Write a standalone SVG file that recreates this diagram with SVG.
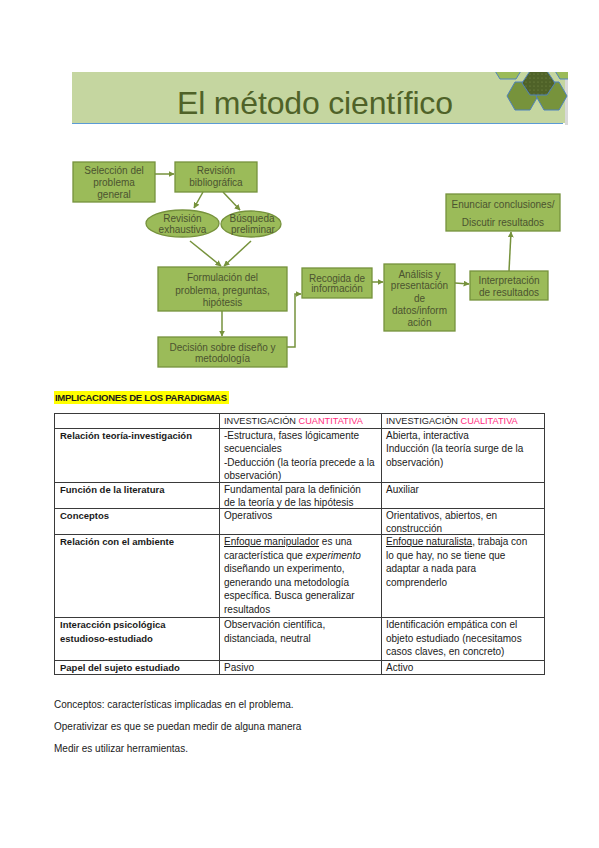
<svg xmlns="http://www.w3.org/2000/svg" width="599" height="848" viewBox="0 0 599 848">
<style>
.box{fill:#9bbb59;stroke:#76923c;stroke-width:1.3}
.ft{font-family:"Liberation Sans",Arial,sans-serif;font-size:10px;fill:#4b5330;text-anchor:middle}
.con{fill:none;stroke:#76923c;stroke-width:1.5}
.tt{font-family:"Liberation Sans",Arial,sans-serif;font-size:10px;fill:#1a1a1a}
.b{font-weight:bold;font-size:9.5px}
.hd{font-size:9.2px}
.pk{fill:#ff2d7e}
.grid{fill:none;stroke:#3a3a3a;stroke-width:1}
.hex{stroke:#4f81bd;stroke-width:1}
</style>
<defs>
<marker id="ah" viewBox="0 0 10 10" refX="9" refY="5" markerWidth="4" markerHeight="4" orient="auto">
<path d="M0,0 L10,5 L0,10 z" fill="#76923c"/>
</marker>
<pattern id="dots" width="4" height="4" patternUnits="userSpaceOnUse">
<rect width="4" height="4" fill="#4f6228"/>
<circle cx="2" cy="2" r="0.6" fill="#7a8f4a"/>
</pattern>
<clipPath id="bclip"><rect x="72" y="72" width="496" height="51"/></clipPath>
</defs>
<rect width="599" height="848" fill="#ffffff"/>

<g id="banner">
<rect x="565" y="74" width="3" height="51" fill="#d9d9d9"/>
<rect x="72" y="72" width="493" height="51" fill="#c5d6a0"/>
<g clip-path="url(#bclip)">
<polygon class="hex" fill="#9bbb59" points="492,66 500,53 516,53 524,66 516,79 500,79"/>
<polygon class="hex" fill="#9bbb59" points="552,66 560,53 576,53 584,66 576,79 560,79"/>
<polygon class="hex" fill="#77933c" points="507,96 515,82 530,82 538,96 530,110 515,110"/>
<polygon class="hex" fill="#77933c" points="536,96 544,82 559,82 567,96 559,110 544,110"/>
<polygon class="hex" fill="url(#dots)" points="522,83 530,71 547,71 555,83 547,95 530,95"/>
</g>
<line x1="72" y1="123.5" x2="563" y2="123.5" stroke="#5b9bd5" stroke-width="1.2"/>
<text x="177" y="114" textLength="276" font-family="Liberation Sans, Arial, sans-serif" font-size="32" fill="#4f6228">El método científico</text>
</g>

<g id="connectors">
<line class="con" x1="155" y1="174" x2="174" y2="174" marker-end="url(#ah)"/>
<line class="con" x1="203" y1="192" x2="194" y2="208" marker-end="url(#ah)"/>
<line class="con" x1="223" y1="192" x2="240" y2="210" marker-end="url(#ah)"/>
<line class="con" x1="190" y1="241" x2="221" y2="266" marker-end="url(#ah)"/>
<line class="con" x1="251" y1="241" x2="224" y2="266" marker-end="url(#ah)"/>
<line class="con" x1="222" y1="311" x2="222" y2="336" marker-end="url(#ah)"/>
<polyline class="con" points="287,347 295,347 295,294 301,294" marker-end="url(#ah)"/>
<line class="con" x1="372" y1="282" x2="383" y2="282" marker-end="url(#ah)"/>
<line class="con" x1="455" y1="283" x2="469" y2="284" marker-end="url(#ah)"/>
<line class="con" x1="509" y1="271" x2="511" y2="232" marker-end="url(#ah)"/>
</g>

<g id="n-seleccion">
<rect class="box" x="73" y="162" width="82" height="40"/>
<text class="ft" x="114" y="173.5">Selección del</text>
<text class="ft" x="114" y="185.5">problema</text>
<text class="ft" x="114" y="198">general</text>
</g>
<g id="n-revision">
<rect class="box" x="175" y="162" width="82" height="30"/>
<text class="ft" x="216" y="173.5">Revisión</text>
<text class="ft" x="216" y="185.5">bibliográfica</text>
</g>
<g id="n-exhaustiva">
<ellipse class="box" cx="182.5" cy="223.5" rx="36.5" ry="13.5"/>
<text class="ft" x="182.5" y="221.5">Revisión</text>
<text class="ft" x="182.5" y="232.5">exhaustiva</text>
</g>
<g id="n-busqueda">
<ellipse class="box" cx="251" cy="224" rx="30" ry="13"/>
<text class="ft" x="252" y="221.5">Búsqueda</text>
<text class="ft" x="253" y="232.5">preliminar</text>
</g>
<g id="n-formulacion">
<rect class="box" x="158" y="267" width="129" height="44"/>
<text class="ft" x="222.5" y="280.5">Formulación del</text>
<text class="ft" x="222.5" y="293.5">problema, preguntas,</text>
<text class="ft" x="222.5" y="305.5">hipótesis</text>
</g>
<g id="n-decision">
<rect class="box" x="158" y="337" width="129" height="30"/>
<text class="ft" x="222.5" y="350.5">Decisión sobre diseño y</text>
<text class="ft" x="222.5" y="361.5">metodología</text>
</g>
<g id="n-recogida">
<rect class="box" x="302" y="268" width="70" height="30"/>
<text class="ft" x="337" y="281.5">Recogida de</text>
<text class="ft" x="337" y="292">información</text>
</g>
<g id="n-analisis">
<rect class="box" x="384" y="264" width="71" height="67"/>
<text class="ft" x="419.5" y="277.5">Análisis y</text>
<text class="ft" x="419.5" y="289">presentación</text>
<text class="ft" x="419.5" y="301.5">de</text>
<text class="ft" x="419.5" y="313.5">datos/inform</text>
<text class="ft" x="419.5" y="325.5">ación</text>
</g>
<g id="n-interpretacion">
<rect class="box" x="470" y="271" width="78" height="29"/>
<text class="ft" x="509" y="283.5">Interpretación</text>
<text class="ft" x="509" y="295.5">de resultados</text>
</g>
<g id="n-enunciar">
<rect class="box" x="446" y="194" width="114" height="37"/>
<text class="ft" x="503" y="207.5">Enunciar conclusiones/</text>
<text class="ft" x="503" y="225.5">Discutir resultados</text>
</g>

<g id="table-section">
<rect x="54" y="391" width="175" height="13" fill="#ffff00"/>
<text class="tt b" x="55" y="401" textLength="172">IMPLICACIONES DE LOS PARADIGMAS</text>

<path class="grid" d="M54,413.5H544.5 M54,428.5H544.5 M54,482.5H544.5 M54,508.5H544.5 M54,534.5H544.5 M54,617.5H544.5 M54,660.5H544.5 M54,674.5H544.5 M54.5,413V675 M219.5,413V675 M381.5,413V675 M544.5,413V675"/>

<text class="tt hd" x="224" y="423.5">INVESTIGACIÓN <tspan class="pk">CUANTITATIVA</tspan></text>
<text class="tt hd" x="386" y="423.5">INVESTIGACIÓN <tspan class="pk">CUALITATIVA</tspan></text>

<text class="tt b" x="60" y="438.5">Relación teoría-investigación</text>
<text class="tt" x="224" y="438.5">-Estructura, fases lógicamente</text>
<text class="tt" x="224" y="452">secuenciales</text>
<text class="tt" x="224" y="465.5">-Deducción (la teoría precede a la</text>
<text class="tt" x="224" y="479">observación)</text>
<text class="tt" x="386" y="438.5">Abierta, interactiva</text>
<text class="tt" x="386" y="452">Inducción (la teoría surge de la</text>
<text class="tt" x="386" y="465.5">observación)</text>

<text class="tt b" x="60" y="492.5">Función de la literatura</text>
<text class="tt" x="224" y="492.5">Fundamental para la definición</text>
<text class="tt" x="224" y="506">de la teoría y de las hipótesis</text>
<text class="tt" x="386" y="492.5">Auxiliar</text>

<text class="tt b" x="60" y="518.5">Conceptos</text>
<text class="tt" x="224" y="518.5">Operativos</text>
<text class="tt" x="386" y="518.5">Orientativos, abiertos, en</text>
<text class="tt" x="386" y="532">construcción</text>

<text class="tt b" x="60" y="545">Relación con el ambiente</text>
<text class="tt" x="224" y="545"><tspan text-decoration="underline">Enfoque manipulador</tspan> es una</text>
<text class="tt" x="224" y="558.5">característica que <tspan font-style="italic">experimento</tspan></text>
<text class="tt" x="224" y="572">diseñando un experimento,</text>
<text class="tt" x="224" y="585.5">generando una metodología</text>
<text class="tt" x="224" y="599">específica. Busca generalizar</text>
<text class="tt" x="224" y="612.5">resultados</text>
<text class="tt" x="386" y="545"><tspan text-decoration="underline">Enfoque naturalista</tspan>, trabaja con</text>
<text class="tt" x="386" y="558.5">lo que hay, no se tiene que</text>
<text class="tt" x="386" y="572">adaptar a nada para</text>
<text class="tt" x="386" y="585.5">comprenderlo</text>

<text class="tt b" x="60" y="628">Interacción psicológica</text>
<text class="tt b" x="60" y="641.5">estudioso-estudiado</text>
<text class="tt" x="224" y="628">Observación científica,</text>
<text class="tt" x="224" y="641.5">distanciada, neutral</text>
<text class="tt" x="386" y="628">Identificación empática con el</text>
<text class="tt" x="386" y="641.5">objeto estudiado (necesitamos</text>
<text class="tt" x="386" y="655">casos claves, en concreto)</text>

<text class="tt b" x="60" y="670.5">Papel del sujeto estudiado</text>
<text class="tt" x="224" y="670.5">Pasivo</text>
<text class="tt" x="386" y="670.5">Activo</text>
</g>

<g id="notes">
<text class="tt" x="54" y="708">Conceptos: características implicadas en el problema.</text>
<text class="tt" x="54" y="730">Operativizar es que se puedan medir de alguna manera</text>
<text class="tt" x="54" y="752">Medir es utilizar herramientas.</text>
</g>
</svg>
